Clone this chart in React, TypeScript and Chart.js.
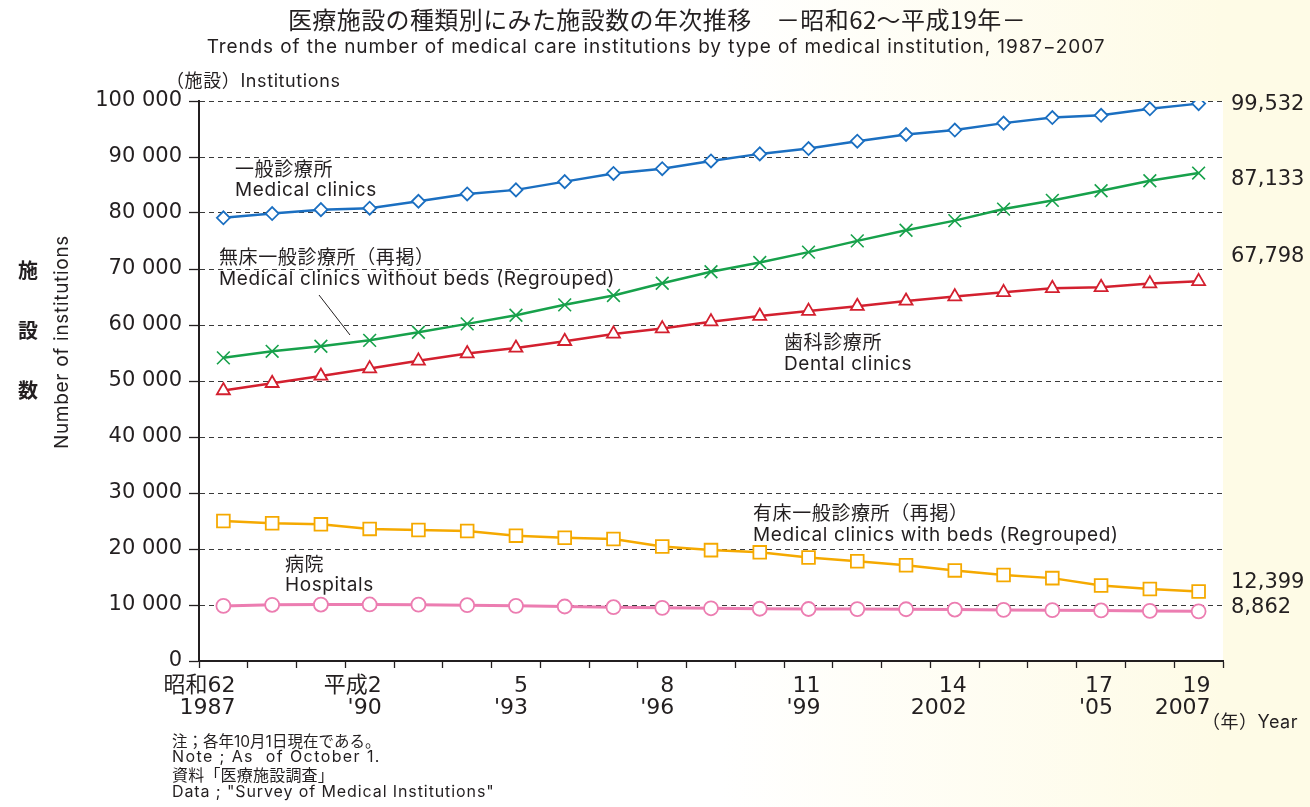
import { useEffect, useRef } from "react";
import { Chart, registerables } from "chart.js";

Chart.register(...registerables);

// ---- data ----
const years = [1987, 1988, 1989, 1990, 1991, 1992, 1993, 1994, 1995, 1996, 1997, 1998, 1999, 2000, 2001, 2002, 2003, 2004, 2005, 2006, 2007];
const xLabelTop = ["昭和62", "", "", "平成2", "", "", "5", "", "", "8", "", "", "11", "", "", "14", "", "", "17", "", "19"];
const xLabelBottom = ["1987", "", "", "'90", "", "", "'93", "", "", "'96", "", "", "'99", "", "", "2002", "", "", "'05", "", "2007"];

const medicalClinics = [79134, 79900, 80600, 80852, 82100, 83400, 84128, 85600, 87069, 87909, 89300, 90556, 91500, 92824, 94019, 94819, 96050, 97051, 97442, 98609, 99532];
const clinicsWithoutBeds = [54134, 55300, 56200, 57263, 58700, 60200, 61745, 63600, 65269, 67457, 69500, 71156, 73013, 75024, 76919, 78641, 80700, 82251, 83965, 85759, 87133];
const dentalClinics = [48300, 49600, 50900, 52216, 53600, 54900, 55906, 57100, 58407, 59357, 60600, 61600, 62484, 63361, 64297, 65073, 65828, 66557, 66732, 67392, 67798];
const clinicsWithBeds = [25000, 24600, 24400, 23589, 23400, 23200, 22383, 22000, 21800, 20452, 19800, 19400, 18487, 17800, 17100, 16178, 15350, 14800, 13477, 12850, 12399];
const hospitals = [9841, 10034, 10081, 10096, 10066, 9963, 9844, 9731, 9606, 9490, 9413, 9333, 9286, 9266, 9239, 9187, 9122, 9077, 9026, 8943, 8862];

const yMin = 0;
const yMax = 100000;
const yStep = 10000;

const BLUE = "#1b6fc1";
const GREEN = "#17a14b";
const RED = "#d3202f";
const ORANGE = "#f5a900";
const PINK = "#ec7db1";
const INK = "#231f20";
const FONT = "Inter, 'Noto Sans CJK JP', sans-serif";
const JFONT = "'Noto Sans CJK JP', sans-serif";
const NFONT = "'DejaVu Sans', 'Noto Sans CJK JP', sans-serif";

const fmtSpace = (v: number) => String(v).replace(/\B(?=(\d{3})+(?!\d))/g, " ");
const fmtComma = (v: number) => v.toLocaleString("en-US");

const decorPlugin = {
  id: "decor",
  beforeDraw(chart: any) {
    const { ctx, chartArea, width, height } = chart;
    ctx.save();
    const g = ctx.createLinearGradient(720, 0, 1223, 0);
    g.addColorStop(0, "#ffffff");
    g.addColorStop(1, "#fefbe6");
    ctx.fillStyle = g;
    ctx.fillRect(0, 0, width, height);
    ctx.fillStyle = "#ffffff";
    ctx.fillRect(chartArea.left, chartArea.top, chartArea.right - chartArea.left, chartArea.bottom - chartArea.top);
    ctx.restore();
  },
  afterDraw(chart: any) {
    const { ctx } = chart;
    ctx.save();
    ctx.fillStyle = INK;
    ctx.textBaseline = "middle";
    const t = (s: string, x: number, y: number, size: number, align: CanvasTextAlign = "left", ls = 0, fam = FONT, weight = "normal") => {
      ctx.font = `${weight} ${size}px ${fam}`;
      ctx.textAlign = align;
      (ctx as any).letterSpacing = `${ls}px`;
      ctx.fillText(s, x, y);
    };
    // titles
    t("医療施設の種類別にみた施設数の年次推移　－昭和62～平成19年－", 657, 20, 24, "center", 0.4, JFONT);
    t("Trends of the number of medical care institutions by type of medical institution, 1987−2007", 656, 47, 19, "center", 0.9);
    t("（施設）Institutions", 166, 82, 18, "left", 0.6);
    // y title
    t("施", 28, 270, 20, "center", 0, JFONT, "bold");
    t("設", 28, 330, 20, "center", 0, JFONT, "bold");
    t("数", 28, 390, 20, "center", 0, JFONT, "bold");
    ctx.save();
    ctx.translate(62, 342);
    ctx.rotate(-Math.PI / 2);
    t("Number of institutions", 0, 0, 19, "center", 0.7);
    ctx.restore();
    // series labels
    t("一般診療所", 235, 170, 19, "left", 0.6);
    t("Medical clinics", 235, 190, 19, "left", 0.6);
    t("無床一般診療所（再掲）", 219, 258, 19, "left", 0.6);
    t("Medical clinics without beds (Regrouped)", 219, 279, 19, "left", 0.6);
    t("歯科診療所", 784, 343, 19, "left", 0.6);
    t("Dental clinics", 784, 364, 19, "left", 0.6);
    t("有床一般診療所（再掲）", 753, 514, 19, "left", 0.6);
    t("Medical clinics with beds (Regrouped)", 753, 535, 19, "left", 0.6);
    t("病院", 285, 565, 19, "left", 0.6);
    t("Hospitals", 285, 585, 19, "left", 0.6);
    // leader line
    ctx.strokeStyle = INK;
    ctx.lineWidth = 1;
    ctx.beginPath();
    ctx.moveTo(319, 295);
    ctx.lineTo(350, 335);
    ctx.stroke();
    // end values
    const last = (a: number[]) => a[a.length - 1];
    t(fmtComma(last(medicalClinics)), 1231, 105, 21, "left", 0, NFONT);
    t(fmtComma(last(clinicsWithoutBeds)), 1231, 180, 21, "left", 0, NFONT);
    t(fmtComma(last(dentalClinics)), 1231, 257, 21, "left", 0, NFONT);
    t(fmtComma(last(clinicsWithBeds)), 1231, 583, 21, "left", 0, NFONT);
    t(fmtComma(last(hospitals)), 1231, 608, 21, "left", 0, NFONT);
    // axis unit
    t("（年）Year", 1298, 723, 18, "right", 0.5);
    // notes
    t("注；各年10月1日現在である。", 172, 742, 15.5, "left", 0);
    t("Note ; As  of October 1.", 172, 757, 16, "left", 1.4);
    t("資料「医療施設調査」", 172, 776, 16, "left", 0.2);
    t("Data ; \"Survey of Medical Institutions\"", 172, 792, 16, "left", 0.9);
    ctx.restore();
  },
};

export default function App() {
  const ref = useRef<HTMLCanvasElement | null>(null);
  useEffect(() => {
    if (!ref.current) return;
    const common = { borderWidth: 2.5, pointBackgroundColor: "#ffffff", pointBorderWidth: 1.8, tension: 0, fill: false };
    const chart = new Chart(ref.current, {
      type: "line",
      data: {
        labels: years.map(String),
        datasets: [
          { ...common, label: "病院", data: hospitals, borderColor: PINK, pointBorderColor: PINK, pointStyle: "circle", pointRadius: 7, borderWidth: 3 },
          { ...common, label: "有床一般診療所", data: clinicsWithBeds, borderColor: ORANGE, pointBorderColor: ORANGE, pointStyle: "rect", pointRadius: 9 },
          { ...common, label: "歯科診療所", data: dentalClinics, borderColor: RED, pointBorderColor: RED, pointStyle: "triangle", pointRadius: 7.5 },
          { ...common, label: "無床一般診療所", data: clinicsWithoutBeds, borderColor: GREEN, pointBorderColor: GREEN, pointStyle: "crossRot", pointRadius: 9, pointBorderWidth: 1.6 },
          { ...common, label: "一般診療所", data: medicalClinics, borderColor: BLUE, pointBorderColor: BLUE, pointStyle: "rectRot", pointRadius: 6.5 },
        ],
      } as any,
      options: {
        responsive: false,
        animation: false,
        events: [],
        layout: { padding: { left: 0, top: 101, right: 87, bottom: 0 } },
        plugins: { legend: { display: false }, tooltip: { enabled: false }, title: { display: false } },
        scales: {
          x: {
            type: "category",
            offset: true,
            afterFit: (s: any) => { s.height = 146; },
            grid: { display: true, offset: true, drawOnChartArea: false, drawTicks: true, tickLength: 7, tickColor: INK, tickWidth: 1.3, color: INK },
            border: { display: true, color: INK, width: 2 },
            ticks: {
              autoSkip: false,
              maxRotation: 0,
              minRotation: 0,
              align: "end",
              labelOffset: 12,
              padding: 7,
              color: INK,
              font: { family: NFONT, size: 22, lineHeight: 1.0 },
              callback: (_v: any, i: number) => (xLabelTop[i] ? [xLabelTop[i], xLabelBottom[i]] : ""),
            },
          },
          y: {
            min: yMin,
            max: yMax,
            afterFit: (s: any) => { s.width = 199; },
            grid: { display: true, color: "#3a3a3a", lineWidth: 1, drawTicks: true, tickLength: 10, tickColor: INK, tickWidth: 1.3, tickBorderDash: [] },
            border: { display: true, color: INK, width: 2, dash: [5, 4] },
            ticks: {
              stepSize: yStep,
              padding: 7,
              color: INK,
              font: { family: NFONT, size: 21 },
              callback: (v: any) => fmtSpace(Number(v)),
            },
          },
        },
      } as any,
      plugins: [decorPlugin],
    });
    return () => chart.destroy();
  }, []);
  return (
    <div style={{ position: "absolute", left: 0, top: 0, width: 1310, height: 807 }}>
      <canvas ref={ref} width={1310} height={807} style={{ width: 1310, height: 807 }} />
    </div>
  );
}
